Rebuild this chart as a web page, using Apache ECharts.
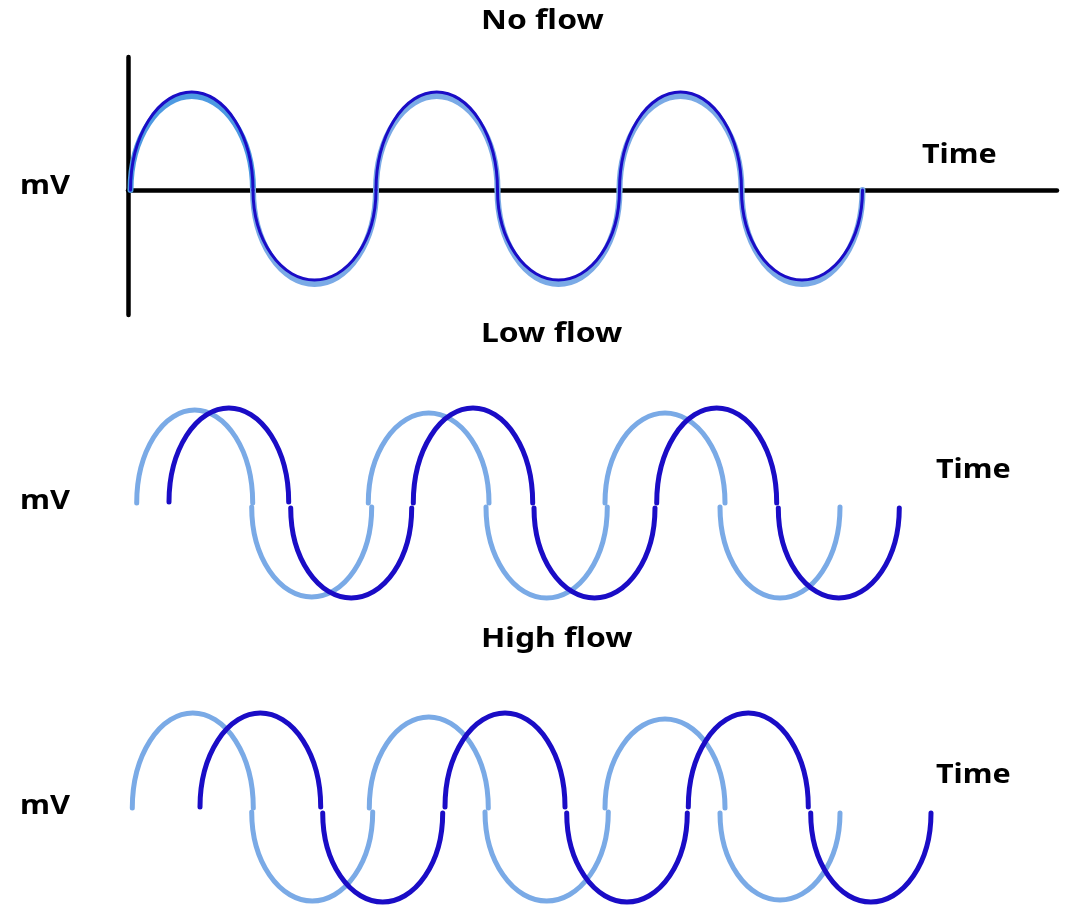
<!DOCTYPE html>
<html>
<head>
<meta charset="utf-8">
<script src="https://cdn.jsdelivr.net/npm/echarts@6/dist/echarts.min.js"></script>
<style>html,body{margin:0;padding:0;background:#fff}#c{width:1067px;height:907px}</style>
</head>
<body>
<div id="c"></div>
<script>
// ---- text ----
const panelTitles = ['No flow', 'Low flow', 'High flow'];
const yLabel = 'mV';
const xLabel = 'Time';

// ---- data: each arc = [time start, time end, baseline mV, extreme mV] ----
const noFlowLight = [
  [0.025, 1.25, 0, 0.94], [1.25, 2.48, 0, -0.94], [2.48, 3.695, 0, 0.94],
  [3.695, 4.915, 0, -0.94], [4.915, 6.135, 0, 0.94], [6.135, 7.345, 0, -0.94]
];
const noFlowDark = [
  [0.025, 1.25, 0, 0.98], [1.25, 2.48, 0, -0.90], [2.48, 3.695, 0, 0.98],
  [3.695, 4.915, 0, -0.90], [4.915, 6.135, 0, 0.98], [6.135, 7.345, 0, -0.90]
];
const lowFlowLight = [
  [0.087, 1.247, 0.02, 0.95], [1.237, 2.437, -0.02, -0.92], [2.403, 3.61, 0.02, 0.92],
  [3.58, 4.793, -0.02, -0.93], [4.77, 5.97, 0.02, 0.92], [5.92, 7.12, -0.02, -0.93]
];
const lowFlowDark = [
  [0.41, 1.607, 0.03, 0.97], [1.627, 2.837, -0.03, -0.93], [2.853, 4.047, 0.02, 0.97],
  [4.06, 5.27, -0.03, -0.93], [5.287, 6.487, 0.02, 0.97], [6.503, 7.713, -0.03, -0.93]
];
const highFlowLight = [
  [0.043, 1.253, 0.02, 0.97], [1.237, 2.447, -0.02, -0.91], [2.413, 3.603, 0.02, 0.93],
  [3.57, 4.803, -0.02, -0.91], [4.77, 5.97, 0.02, 0.91], [5.92, 7.12, -0.03, -0.90]
];
const highFlowDark = [
  [0.72, 1.927, 0.03, 0.97], [1.947, 3.147, -0.03, -0.92], [3.17, 4.37, 0.03, 0.97],
  [4.387, 5.593, -0.03, -0.92], [5.603, 6.803, 0.03, 0.97], [6.827, 8.03, -0.03, -0.92]
];

const LIGHT = '#7aaae6';
const LIGHT_FIRST = '#4d9ae2';
const DARK = '#1a0cc6';

function makeRender(color, width, firstColor) {
  return function (params, api) {
    const t0 = api.value(0), t1 = api.value(1), b = api.value(2), e = api.value(3);
    const p0 = api.coord([t0, b]);
    const p1 = api.coord([t1, b]);
    const pk = api.coord([(t0 + t1) / 2, e]);
    const rx = Math.abs(p1[0] - p0[0]) / 2;
    const ry = Math.abs(pk[1] - p0[1]);
    const sweep = pk[1] < p0[1] ? 1 : 0;
    const c = (firstColor && params.dataIndex === 0) ? firstColor : color;
    return {
      type: 'path',
      shape: { pathData: 'M' + p0[0] + ' ' + p0[1] + ' A' + rx + ' ' + ry + ' 0 0 ' + sweep + ' ' + p1[0] + ' ' + p1[1] },
      style: { fill: 'none', stroke: c, lineWidth: width, lineCap: 'round', lineJoin: 'round' }
    };
  };
}

function arcSeries(data, idx, color, width, firstColor, z) {
  return {
    type: 'custom', xAxisIndex: idx, yAxisIndex: idx, data: data, z: z,
    encode: { x: [0, 1], y: [2, 3] }, clip: false, silent: true,
    renderItem: makeRender(color, width, firstColor)
  };
}

// zero line of each panel at pixel 190 / 505 / 810 (133 px below grid top)
const grids = [
  { left: 128, top: 57, width: 929, height: 258 },
  { left: 128, top: 372, width: 929, height: 258 },
  { left: 128, top: 677, width: 929, height: 230 }
];
const yMins = [-1.25, -1.25, -0.97];
const xAxes = grids.map((g, i) => ({
  type: 'value', gridIndex: i, min: 0, max: 9.29, show: i === 0,
  axisLine: { show: true, onZero: true, lineStyle: { color: '#000', width: 4.5 } },
  axisTick: { show: false }, axisLabel: { show: false }, splitLine: { show: false }
}));
const yAxes = grids.map((g, i) => ({
  type: 'value', gridIndex: i, min: yMins[i], max: 1.33, show: i === 0,
  axisLine: { show: true, lineStyle: { color: '#000', width: 4.5 } },
  axisTick: { show: false }, axisLabel: { show: false }, splitLine: { show: false }
}));

const FONT = { fontFamily: 'Noto Sans', fontWeight: 'bold', fontSize: 27, fill: '#000' };
function txt(text, x, y, sx) {
  return {
    type: 'text', x: x, y: y, scaleX: sx, silent: true,
    style: Object.assign({ text: text, x: 0, y: 0, align: 'left', verticalAlign: 'middle' }, FONT)
  };
}
const titleY = [21, 334, 639];
const mvY = [186, 501, 806];
const timeX = [922, 936, 936];
const timeY = [155, 470, 775];
const graphics = [];
for (let i = 0; i < 3; i++) {
  graphics.push(txt(panelTitles[i], 481, titleY[i], 1.18));
  graphics.push(txt(yLabel, 20, mvY[i], 1.14));
  graphics.push(txt(xLabel, timeX[i], timeY[i], 1.13));
}

const chart = echarts.init(document.getElementById('c'), null, { renderer: 'canvas' });
chart.setOption({
  animation: false,
  backgroundColor: '#fff',
  grid: grids, xAxis: xAxes, yAxis: yAxes,
  graphic: graphics,
  series: [
    arcSeries(noFlowLight, 0, LIGHT, 6, LIGHT_FIRST, 2),
    arcSeries(noFlowDark, 0, DARK, 3, null, 3),
    arcSeries(lowFlowLight, 1, LIGHT, 5, null, 2),
    arcSeries(lowFlowDark, 1, DARK, 5, null, 3),
    arcSeries(highFlowLight, 2, LIGHT, 5, null, 2),
    arcSeries(highFlowDark, 2, DARK, 5, null, 3)
  ]
});
</script>
</body>
</html>
